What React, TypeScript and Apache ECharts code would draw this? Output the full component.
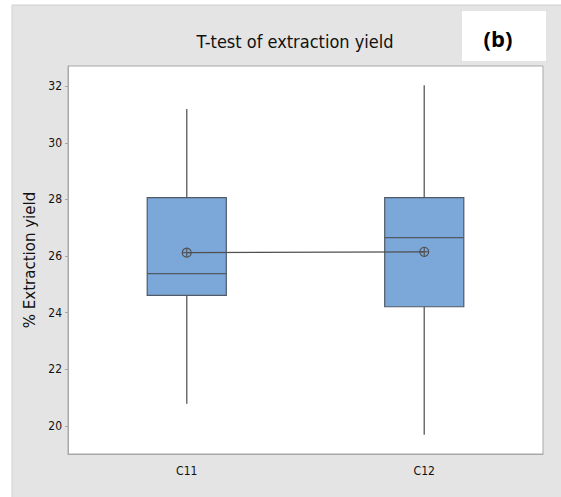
import React, { useEffect, useRef } from "react";
import * as echarts from "echarts";

// Box-plot summary for each sample column
const categories = ["C11", "C12"];
const whiskerLow = [20.78, 19.69];
const q1 = [24.61, 24.21];
const median = [25.38, 26.65];
const q3 = [28.06, 28.06];
const whiskerHigh = [31.19, 32.03];
const means = [26.12, 26.15];
const yTicks = [20, 22, 24, 26, 28, 30, 32];

const NARROW = "'Liberation Sans Narrow', 'DejaVu Sans Condensed', 'Roboto', sans-serif";

export default function App() {
  const ref = useRef<HTMLDivElement>(null);

  useEffect(() => {
    const chart = echarts.init(ref.current!, null, { renderer: "svg" });
    const boxData = categories.map((_, i) => [
      i,
      whiskerLow[i],
      q1[i],
      median[i],
      q3[i],
      whiskerHigh[i],
    ]);
    const meanData = categories.map((_, i) => [i, means[i]]);

    chart.setOption({
      animation: false,
      backgroundColor: "#ffffff",
      graphic: [
        {
          type: "rect",
          z: -10,
          shape: { x: 12, y: 5, width: 560, height: 500 },
          style: { fill: "#e4e4e4", stroke: "#cfcfcf", lineWidth: 1 },
          silent: true,
        },
        {
          type: "rect",
          z: -5,
          shape: { x: 462, y: 11, width: 84, height: 50 },
          style: { fill: "#ffffff" },
          silent: true,
        },
        {
          type: "text",
          x: 498,
          y: 38,
          style: {
            text: "(b)",
            fill: "#000000",
            font: "bold 22px 'Open Sans', 'Noto Sans', sans-serif",
            textAlign: "center",
            textVerticalAlign: "middle",
          },
        },
      ],
      title: {
        text: "T-test of extraction yield",
        left: 290,
        top: 27,
        textAlign: "center",
        textStyle: {
          fontFamily: NARROW,
          fontSize: 18,
          fontWeight: "normal",
          color: "#111111",
        },
      },
      grid: {
        left: 68,
        top: 66,
        right: 18,
        bottom: 43,
        show: true,
        backgroundColor: "#ffffff",
        borderColor: "#a8a8a8",
        borderWidth: 1,
      },
      xAxis: {
        type: "category",
        data: categories,
        boundaryGap: true,
        axisLine: { lineStyle: { color: "#a8a8a8" } },
        axisTick: { alignWithLabel: true, length: 3, lineStyle: { color: "#a8a8a8" } },
        axisLabel: { margin: 11, color: "#111111", fontSize: 12, fontFamily: NARROW },
        splitLine: { show: false },
      },
      yAxis: {
        type: "value",
        min: 19.01,
        max: 32.71,
        name: "% Extraction yield",
        nameLocation: "middle",
        nameGap: 29,
        nameTextStyle: {
          fontFamily: "'DejaVu Sans', sans-serif",
          fontSize: 15,
          color: "#111111",
        },
        axisLine: { show: true, lineStyle: { color: "#a8a8a8" } },
        axisTick: { show: true, length: 3, customValues: yTicks, lineStyle: { color: "#a8a8a8" } },
        axisLabel: {
          customValues: yTicks,
          margin: 6,
          color: "#111111",
          fontSize: 12,
          fontFamily: NARROW,
        },
        splitLine: { show: false },
      },
      series: [
        {
          type: "custom",
          name: "box",
          data: boxData,
          encode: { x: 0, y: [1, 2, 3, 4, 5] },
          z: 2,
          renderItem: (params: any, api: any) => {
            const x = api.value(0);
            const lo = api.coord([x, api.value(1)]);
            const b1 = api.coord([x, api.value(2)]);
            const md = api.coord([x, api.value(3)]);
            const b3 = api.coord([x, api.value(4)]);
            const hi = api.coord([x, api.value(5)]);
            const half = (api.size([1, 0])[0] * 0.333) / 2;
            const whisker = { stroke: "#6e6e6e", lineWidth: 1.5 };
            return {
              type: "group",
              children: [
                {
                  type: "line",
                  shape: { x1: lo[0], y1: lo[1], x2: b1[0], y2: b1[1] },
                  style: whisker,
                },
                {
                  type: "line",
                  shape: { x1: hi[0], y1: hi[1], x2: b3[0], y2: b3[1] },
                  style: whisker,
                },
                {
                  type: "rect",
                  shape: {
                    x: b3[0] - half,
                    y: b3[1],
                    width: half * 2,
                    height: b1[1] - b3[1],
                  },
                  style: { fill: "#7ba7d9", stroke: "#505a66", lineWidth: 1.2 },
                },
                {
                  type: "line",
                  shape: { x1: md[0] - half, y1: md[1], x2: md[0] + half, y2: md[1] },
                  style: { stroke: "#505a66", lineWidth: 1.2 },
                },
              ],
            };
          },
        },
        {
          type: "line",
          name: "mean",
          data: meanData,
          symbol: "none",
          z: 3,
          lineStyle: { color: "#505050", width: 1.2 },
        },
        {
          type: "custom",
          name: "mean marker",
          data: meanData,
          encode: { x: 0, y: 1 },
          z: 4,
          renderItem: (params: any, api: any) => {
            const p = api.coord([api.value(0), api.value(1)]);
            const r = 4.5;
            const st = { stroke: "#505050", lineWidth: 1.1, fill: "none" };
            return {
              type: "group",
              children: [
                { type: "circle", shape: { cx: p[0], cy: p[1], r }, style: st },
                {
                  type: "line",
                  shape: { x1: p[0] - r, y1: p[1], x2: p[0] + r, y2: p[1] },
                  style: st,
                },
                {
                  type: "line",
                  shape: { x1: p[0], y1: p[1] - r, x2: p[0], y2: p[1] + r },
                  style: st,
                },
              ],
            };
          },
        },
      ],
    });

    return () => chart.dispose();
  }, []);

  return (
    <div
      ref={ref}
      style={{ position: "fixed", left: 0, top: 0, width: 561, height: 497 }}
    />
  );
}
